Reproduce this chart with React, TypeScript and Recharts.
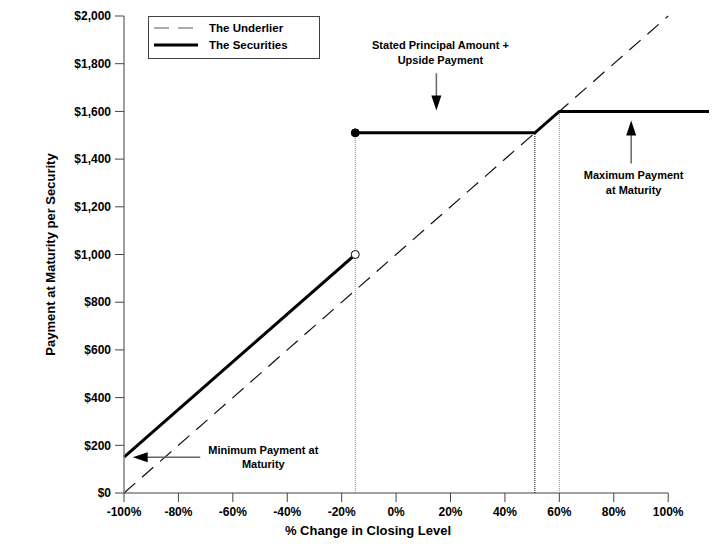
import { ComposedChart, Line, XAxis, YAxis, ReferenceLine, ReferenceDot, Legend } from 'recharts';

const xTicks = [-100, -80, -60, -40, -20, 0, 20, 40, 60, 80, 100];
const yTicks = [0, 200, 400, 600, 800, 1000, 1200, 1400, 1600, 1800, 2000];

// the underlier: straight 1:1 exposure
const underlierX = [-100, 100];
const underlierY = [0, 2000];

// the securities, below the threshold
const belowX = [-100, -15];
const belowY = [150, 1000];

// the securities, at or above the threshold
const aboveX = [-15, 51, 60, 115];
const aboveY = [1510, 1510, 1600, 1600];

const thresholdX = -15;
const kneeX = 51;
const capX = 60;

const toRows = (xs: number[], ys: number[]) => xs.map((x, i) => ({ x, y: ys[i] }));

const FONT = '"Liberation Sans", Arial, sans-serif';

const textProps = {
  fontFamily: FONT,
  fontWeight: 'bold' as const,
  fontSize: 11,
  fill: '#000',
  textAnchor: 'middle' as const,
  dominantBaseline: 'central' as const,
};

const note = (lines: string[], x: number, ys: number[]) =>
  lines.map((t, i) => (
    <ReferenceDot
      key={t}
      x={x}
      y={ys[i]}
      r={0}
      ifOverflow="visible"
      shape={(p: any) => (
        <text x={p.cx} y={p.cy} {...textProps}>
          {t}
        </text>
      )}
    />
  ));

// arrow head drawn at the tip, pointing in dir
const head = (x: number, y: number, dir: 'up' | 'down' | 'left') => (
  <ReferenceDot
    x={x}
    y={y}
    r={0}
    ifOverflow="visible"
    shape={(p: any) => {
      const { cx, cy } = p;
      let pts = '';
      if (dir === 'down') pts = `${cx},${cy} ${cx - 5},${cy - 15} ${cx + 5},${cy - 15}`;
      if (dir === 'up') pts = `${cx},${cy} ${cx - 5},${cy + 15} ${cx + 5},${cy + 15}`;
      if (dir === 'left') pts = `${cx},${cy} ${cx + 15},${cy - 5} ${cx + 15},${cy + 5}`;
      return <polygon points={pts} fill="#000" />;
    }}
  />
);

const renderLegend = () => (
  <div style={{ border: '1px solid #404040', background: '#fff', width: 172, height: 43, boxSizing: 'border-box' }}>
    <svg width={170} height={41} style={{ display: 'block' }}>
      <line x1={5} x2={49} y1={11} y2={11} stroke="#555" strokeDasharray="15 9" />
      <text x={60} y={11} {...textProps} textAnchor="start" fontSize={11.5}>
        The Underlier
      </text>
      <line x1={5} x2={49} y1={28} y2={28} stroke="#000" strokeWidth={3} />
      <text x={60} y={28} {...textProps} textAnchor="start" fontSize={11.5}>
        The Securities
      </text>
    </svg>
  </div>
);

export default function App() {
  return (
    <ComposedChart width={718} height={542} margin={{ top: 8, right: 17, left: 0, bottom: 27 }}>
      <XAxis
        dataKey="x"
        type="number"
        domain={[-100, 115]}
        ticks={xTicks}
        tickFormatter={(v) => `${v}%`}
        axisLine={false}
        tickLine={{ stroke: '#444' }}
        tickSize={9}
        tickMargin={5}
        height={30}
        tick={{ fill: '#000', fontSize: 12, fontWeight: 'bold', fontFamily: FONT }}
        label={{
          content: (p: any) => (
            <text x={p.viewBox.x + 244} y={p.viewBox.y + 37} {...textProps} fontSize={13}>
              % Change in Closing Level
            </text>
          ),
        }}
      />
      <YAxis
        type="number"
        domain={[0, 2000]}
        ticks={yTicks}
        tickFormatter={(v) => `$${v.toLocaleString('en-US')}`}
        axisLine={{ stroke: '#7f7f7f', strokeWidth: 1.5 }}
        tickLine={{ stroke: '#444' }}
        tickSize={9}
        tickMargin={4}
        width={116}
        tick={{ fill: '#000', fontSize: 12, fontWeight: 'bold', fontFamily: FONT }}
        label={{
          content: (p: any) => {
            const cx = 42;
            const cy = p.viewBox.y + p.viewBox.height / 2;
            return (
              <text x={cx} y={cy} transform={`rotate(-90 ${cx} ${cy})`} {...textProps} fontSize={13}>
                Payment at Maturity per Security
              </text>
            );
          },
        }}
      />
      <Legend
        content={renderLegend}
        layout="horizontal"
        verticalAlign="middle"
        align="center"
        wrapperStyle={{ top: 8, left: 140, width: 172 }}
      />

      {/* x axis line only runs to 100% */}
      <ReferenceLine segment={[{ x: -100, y: 0 }, { x: 100, y: 0 }]} stroke="#7f7f7f" strokeWidth={1.5} />

      {/* dotted drop lines */}
      <ReferenceLine segment={[{ x: thresholdX, y: 0 }, { x: thresholdX, y: 1510 }]} stroke="#888" strokeDasharray="1 1" />
      <ReferenceLine segment={[{ x: kneeX, y: 0 }, { x: kneeX, y: 1510 }]} stroke="#000" strokeDasharray="1 1" />
      <ReferenceLine segment={[{ x: capX, y: 0 }, { x: capX, y: 1600 }]} stroke="#888" strokeDasharray="1 1" />

      <Line
        data={toRows(underlierX, underlierY)}
        dataKey="y"
        type="linear"
        stroke="#111"
        strokeWidth={1.2}
        strokeDasharray="15 9"
        dot={false}
        activeDot={false}
        legendType="none"
        isAnimationActive={false}
      />
      <Line
        data={toRows(belowX, belowY)}
        dataKey="y"
        type="linear"
        stroke="#000"
        strokeWidth={3}
        dot={false}
        activeDot={false}
        isAnimationActive={false}
      />
      <Line
        data={toRows(aboveX, aboveY)}
        dataKey="y"
        type="linear"
        stroke="#000"
        strokeWidth={3}
        dot={false}
        activeDot={false}
        isAnimationActive={false}
      />

      <ReferenceDot x={thresholdX} y={1510} r={4} fill="#000" stroke="#000" />
      <ReferenceDot x={thresholdX} y={1000} r={4} fill="#fff" stroke="#000" strokeWidth={1} />

      {/* annotations */}
      {note(['Stated Principal Amount +', 'Upside Payment'], 16.3, [1877, 1817])}
      <ReferenceLine segment={[{ x: 14.8, y: 1760 }, { x: 14.8, y: 1640 }]} stroke="#666" strokeWidth={1.5} />
      {head(14.8, 1604, 'down')}

      {note(['Maximum Payment', 'at Maturity'], 87.3, [1332, 1269])}
      <ReferenceLine segment={[{ x: 86.4, y: 1382 }, { x: 86.4, y: 1520 }]} stroke="#666" strokeWidth={1.5} />
      {head(86.4, 1562, 'up')}

      {note(['Minimum Payment at', 'Maturity'], -48.8, [182, 122])}
      <ReferenceLine segment={[{ x: -72, y: 150 }, { x: -93, y: 150 }]} stroke="#666" strokeWidth={1.5} />
      {head(-96.8, 150, 'left')}
    </ComposedChart>
  );
}
